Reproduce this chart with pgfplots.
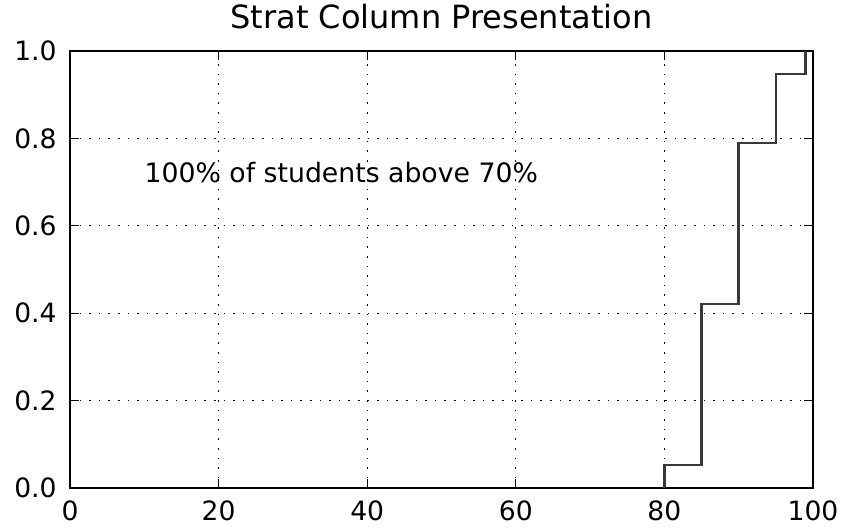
\documentclass[border=0pt]{standalone}
\usepackage{fontspec}
\setmainfont{DejaVu Sans}
\usepackage{pgfplots}
\pgfplotsset{compat=1.18}

\begin{document}
\begin{tikzpicture}
% page frame: the axis box sits with its lower left corner at the origin
\path[use as bounding box] (-35pt,-19.5pt) rectangle (397pt,244pt);
\begin{axis}[
  name=ax,
  at={(0,0)}, anchor=south west,
  scale only axis,
  width=371.5pt, height=218.5pt,
  xmin=0, xmax=100, ymin=0, ymax=1,
  xtick={0,20,40,60,80,100},
  ytick={0,0.2,0.4,0.6,0.8,1.0},
  tick align=inside,
  major tick length=4.7pt,
  tick style={black, line width=0.5pt},
  axis line style={black, line width=1pt},
  grid=major,
  major grid style={black, line width=0.5pt, dash pattern=on 0.8pt off 4pt},
  /pgf/number format/assume math mode=true,
  tick label style={font=\fontsize{13.3}{16}\selectfont},
  xticklabel style={anchor=north, inner sep=0pt, yshift=-6pt},
  yticklabel style={anchor=east, inner sep=0pt, xshift=-6.5pt,
    /pgf/number format/.cd, fixed, fixed zerofill, precision=1},
  title={Strat Column Presentation},
  title style={font=\fontsize{16}{19}\selectfont, inner sep=0pt, anchor=base, yshift=5.5pt},
  clip=false,
]
% cumulative fraction of students by score
\addplot[const plot, draw=black!78, line width=1.3pt] coordinates {
  (80,0) (80,0.0526) (85,0.4211) (90,0.7895) (95,0.9474) (99,1.0)
};
\node[anchor=base west, inner sep=0pt, font=\fontsize{13.35}{16}\selectfont]
  at (axis cs:10,0.7) {100\% of students above 70\%};
\end{axis}
\end{tikzpicture}
\end{document}
